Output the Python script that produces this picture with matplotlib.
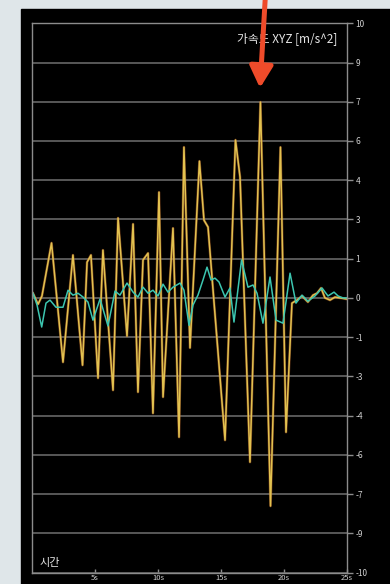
import matplotlib
matplotlib.use('Agg')
import matplotlib.pyplot as plt
from matplotlib.patches import Rectangle
import numpy as np

plt.rcParams['font.family'] = ['Noto Sans CJK KR', 'DejaVu Sans']

# acceleration traces (time in s, value in m/s^2)
yellow_t = [0.08, 0.48, 0.79, 1.55, 2.46, 3.25, 4.01, 4.37, 4.68, 5.24, 5.63, 6.43,
            6.83, 7.54, 8.02, 8.41, 8.81, 9.21, 9.60, 10.08, 10.40, 11.19, 11.67,
            12.06, 12.54, 13.29, 13.65, 13.97, 15.32, 16.15, 16.51, 17.30, 18.13,
            18.93, 19.72, 20.16, 20.63, 21.03, 21.43, 21.90, 22.30, 22.62, 22.94,
            23.25, 23.65, 24.05, 24.44, 24.96]
yellow_v = [0.17, -0.23, 0.07, 2.0, -2.34, 1.56, -2.45, 1.3, 1.56, -2.92, 1.74, -3.36,
            2.91, -1.39, 2.69, -3.43, 1.38, 1.63, -4.2, 3.85, -3.61, 2.54, -5.07,
            5.49, -1.82, 4.98, 2.83, 2.58, -5.18, 5.75, 4.4, -5.98, 7.13,
            -7.58, 5.49, -4.89, -0.19, -0.08, 0.07, -0.15, 0.1, 0.17, 0.36,
            0.0, -0.08, 0.03, 0.0, -0.04]

cyan_t = [0.08, 0.40, 0.77, 1.11, 1.43, 1.90, 2.46, 2.86, 3.25, 3.65, 4.05, 4.44,
          4.84, 5.40, 6.03, 6.59, 6.98, 7.54, 8.02, 8.41, 8.81, 9.21, 9.60, 10.0,
          10.40, 10.79, 11.19, 11.75, 12.06, 12.46, 12.78, 13.17, 13.57, 13.89,
          14.21, 14.52, 14.84, 15.32, 15.71, 16.03, 16.63, 17.14, 17.54, 17.86,
          18.33, 18.89, 19.37, 19.92, 20.48, 20.95, 21.43, 21.90, 22.46, 23.02,
          23.49, 23.97, 24.29, 24.68, 25.0]
cyan_v = [0.17, -0.26, -1.06, -0.19, -0.08, -0.34, -0.34, 0.28, 0.1, 0.17, 0.03, -0.15,
          -0.81, -0.04, -1.02, 0.25, 0.1, 0.54, 0.21, 0.03, 0.39, 0.17, 0.28, 0.07,
          0.5, 0.21, 0.39, 0.54, 0.28, -1.0, -0.26, 0.1, 0.65, 1.12,
          0.65, 0.72, 0.58, 0.03, 0.36, -0.88, 1.38, 0.39, 0.47, 0.17,
          -0.92, 0.76, -0.81, -0.92, 0.9, -0.19, 0.1, -0.12, 0.07, 0.36,
          0.07, 0.21, 0.07, 0.0, 0.0]

y_ticks = np.linspace(10, -10, 15)
y_labels = [str(int(round(v))) for v in y_ticks]
x_ticks = [5, 10, 15, 20, 25]
x_labels = ['5s', '10s', '15s', '20s', '25s']

W, H = 390, 584
fig = plt.figure(figsize=(W / 100, H / 100), dpi=100)
fig.patch.set_facecolor('#dfe6e9')

# black phone panel
fig.add_artist(Rectangle((21 / W, 0), 1 - 21 / W, (H - 9) / H,
                         transform=fig.transFigure, color='black', zorder=0))

left, right, top, bottom = 32, 347, 23.3, 572.5
ax = fig.add_axes([left / W, (H - bottom) / H, (right - left) / W, (bottom - top) / H])
ax.set_facecolor('black')
ax.set_xlim(0, 25)
ax.set_ylim(-10, 10)

for s in ax.spines.values():
    s.set_color('#8c8c8c')
    s.set_linewidth(1)

ax.yaxis.tick_right()
ax.set_yticks(y_ticks)
ax.set_yticklabels(y_labels)
ax.tick_params(axis='y', length=4, width=1, color='#8c8c8c', labelsize=6,
               labelcolor='#d0d0d0', pad=2)
ax.set_xticks(x_ticks)
ax.set_xticklabels(x_labels)
ax.tick_params(axis='x', direction='in', length=3, width=1, color='#8c8c8c',
               labelsize=5.5, labelcolor='#d0d0d0', pad=1.2)
ax.grid(axis='y', color='#707070', linewidth=1.1)
ax.set_axisbelow(True)

ax.plot(yellow_t, yellow_v, color='#b8642a', linewidth=1.9, alpha=0.55)
ax.plot(yellow_t, yellow_v, color='#e2c250', linewidth=1.1)
ax.plot(cyan_t, cyan_v, color='#3cc6b0', linewidth=1.1)

ax.text(0.971, 0.973, '가속도 XYZ [m/s^2]', transform=ax.transAxes, ha='right',
        va='center', fontsize=8.5, color='#e6e6e6')
ax.text(0.025, 0.017, '시간', transform=ax.transAxes, ha='left', va='center',
        fontsize=8, color='#e6e6e6')

# red arrow pointing at the biggest peak
ax.annotate('', xy=(260, H - 88), xytext=(265.5, H + 6), xycoords='figure pixels',
            textcoords='figure pixels', annotation_clip=False,
            arrowprops=dict(arrowstyle='-|>,head_length=1.3,head_width=0.7',
                            lw=3.6, color='#ef4b2a', shrinkA=0, shrinkB=0,
                            mutation_scale=10))

fig.savefig('out.png', dpi=100, facecolor=fig.get_facecolor())
